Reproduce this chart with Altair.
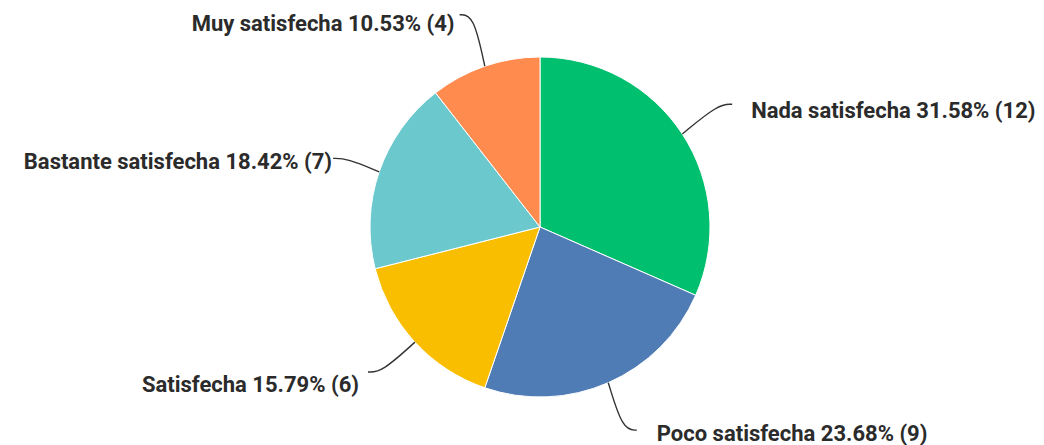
import math
import pandas as pd
import altair as alt

# ---- data ----
CATEGORIES = ["Nada satisfecha", "Poco satisfecha", "Satisfecha", "Bastante satisfecha", "Muy satisfecha"]
COUNTS = [12, 9, 6, 7, 4]
PERCENTS = ["31.58%", "23.68%", "15.79%", "18.42%", "10.53%"]
COLORS = ["#00BF6F", "#507CB6", "#F9BE00", "#6BC8CD", "#FF8B4F"]

# ---- layout (pixels / degrees) ----
W, H = 1028, 437
CX, CY = 532, 219
R = 170
LEADER_R = [228, 225, 225, 218, 227]
LEADER_ANGLE_SHIFT = [0.6, -1.8, 2.5, -0.6, -1.8]
TEXT_DX = [19, 20, -9, -1, -5]
TEXT_DY = [7, 4, 13, 4, 9]

total = sum(COUNTS)
rows, line_rows, text_rows = [], [], []
cum = 0
for i, (cat, n, pct) in enumerate(zip(CATEGORIES, COUNTS, PERCENTS)):
    rows.append({"cat": cat, "count": n, "idx": i})
    mid = (cum + n / 2) / total * 360
    cum += n
    a0 = math.radians(mid)
    a1 = math.radians(mid + LEADER_ANGLE_SHIFT[i])
    sx, sy = CX + R * math.sin(a0), CY - R * math.cos(a0)
    ex, ey = CX + LEADER_R[i] * math.sin(a1), CY - LEADER_R[i] * math.cos(a1)
    side = 1 if math.sin(a0) > 0 else -1
    cx1, cy1 = ex - side * 14, ey
    for k, (px, py) in enumerate([(sx, sy), (cx1, cy1), (ex, ey)]):
        line_rows.append({"cat": cat, "k": k, "px": px, "py": py})
    text_rows.append({
        "cat": cat,
        "label": f"{cat} {pct} ({n})",
        "px": ex + TEXT_DX[i],
        "py": ey + TEXT_DY[i],
        "side": "right" if side > 0 else "left",
    })

pie_df = pd.DataFrame(rows)
line_df = pd.DataFrame(line_rows)
text_df = pd.DataFrame(text_rows)

arc = alt.Chart(pie_df).mark_arc(outerRadius=R, stroke="white", strokeWidth=1).encode(
    theta=alt.Theta("count:Q", stack=True),
    color=alt.Color("cat:N", scale=alt.Scale(domain=CATEGORIES, range=COLORS), legend=None),
    order=alt.Order("idx:Q"),
    x=alt.value(CX),
    y=alt.value(CY),
)

leaders = alt.Chart(line_df).mark_line(interpolate="basis", color="#333333", strokeWidth=1.4).encode(
    x=alt.X("px:Q", scale=None, axis=None),
    y=alt.Y("py:Q", scale=None, axis=None),
    detail="cat:N",
    order="k:Q",
)

text_style = dict(font="Roboto", fontSize=22, fontWeight="bold", color="#2b2b2b", baseline="middle")
labels_right = alt.Chart(text_df).transform_filter(alt.datum.side == "right").mark_text(
    align="left", **text_style
).encode(
    x=alt.X("px:Q", scale=None, axis=None),
    y=alt.Y("py:Q", scale=None, axis=None),
    text="label:N",
)
labels_left = alt.Chart(text_df).transform_filter(alt.datum.side == "left").mark_text(
    align="right", **text_style
).encode(
    x=alt.X("px:Q", scale=None, axis=None),
    y=alt.Y("py:Q", scale=None, axis=None),
    text="label:N",
)

chart = alt.layer(arc, leaders, labels_right, labels_left).properties(
    width=W, height=H, padding=0, autosize="none"
).configure_view(stroke=None)

chart.save("out.html", embed_options={"renderer": "svg", "actions": False})
